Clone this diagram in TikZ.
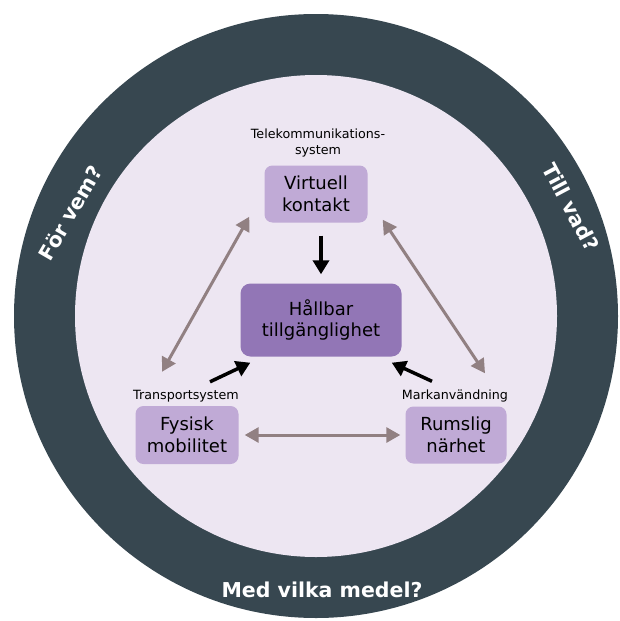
\documentclass[tikz,border=0pt]{standalone}
\usepackage{fontspec}
\setmainfont{DejaVu Sans}
\usepackage{tikz}
\usetikzlibrary{arrows.meta,calc}
\definecolor{ringdark}{RGB}{55,71,80}
\definecolor{innerbg}{RGB}{237,230,242}
\definecolor{boxlight}{RGB}{192,170,214}
\definecolor{boxdark}{RGB}{146,118,182}
\definecolor{greyarr}{RGB}{145,128,130}

\begin{document}
\begin{tikzpicture}[x=1pt,y=-1pt]
            \tikzstyle{box}=[rounded corners=8pt, fill=boxlight, inner sep=2pt, align=center, font=\fontsize{18}{21.5}\selectfont]
            \tikzstyle{mainbox}=[box, rounded corners=10pt, fill=boxdark, minimum width=161pt, minimum height=73pt]
            \tikzstyle{lbl}=[align=center, inner sep=1pt, font=\fontsize{12.7}{16}\selectfont]
            \tikzstyle{ringtext}=[text=white, inner sep=0pt, font=\bfseries\fontsize{20.5}{24}\selectfont]
            \tikzstyle{twoway}=[draw=greyarr, line width=3pt, {Triangle[length=14pt,width=15pt]}-{Triangle[length=14pt,width=15pt]}]
            \tikzstyle{oneway}=[draw=black, line width=3.5pt, -{Triangle[length=14pt,width=16pt]}]
            \useasboundingbox (0,0) rectangle (620,621);
            % ring and inner field
            \fill[ringdark] (316,316) circle (302pt);
            \fill[innerbg] (316,316) circle (241pt);
            \node[ringtext, rotate=60] (Q1) at (70,213) {För vem?};
            \node[ringtext, rotate=-62] (Q2) at (571,207) {Till vad?};
            \node[ringtext, anchor=base] (Q3) at (322,597) {Med vilka medel?};
            % boxes
            \node[box, minimum width=103pt, minimum height=57pt] (V) at (316,194) {Virtuell\\kontakt};
            \node[mainbox] (H) at (321,320) {Hållbar\\tillgänglighet};
            \node[box, minimum width=103pt, minimum height=58pt] (F) at (187,435) {Fysisk\\mobilitet};
            \node[box, minimum width=101pt, minimum height=57pt] (R) at (456,435) {Rumslig\\närhet};
            \node[lbl] (Vl) at (318,143) {Telekommunikations-\\system};
            \node[lbl] (Fl) at (186,396) {Transportsystem};
            \node[lbl] (Rl) at (455,396) {Markanvändning};
            % connections
            \draw[twoway] ([xshift=-15pt,yshift=6pt]V.south west) -- ([xshift=-25pt,yshift=34pt]F.north);
            \draw[twoway] ([xshift=15pt,yshift=3pt]V.south east) -- ([xshift=29pt,yshift=33pt]R.north);
            \draw[twoway] ([xshift=6pt]F.east) -- ([xshift=-5pt]R.west);
            \draw[oneway] ([xshift=5pt,yshift=-13pt]V.south) -- ([yshift=9pt]H.north);
            \draw[oneway] ([xshift=23pt,yshift=24pt]F.north) -- ([xshift=10pt,yshift=-6pt]H.south west);
            \draw[oneway] ([xshift=-24pt,yshift=25pt]R.north) -- ([xshift=-10pt,yshift=-6pt]H.south east);
\end{tikzpicture}
\end{document}
